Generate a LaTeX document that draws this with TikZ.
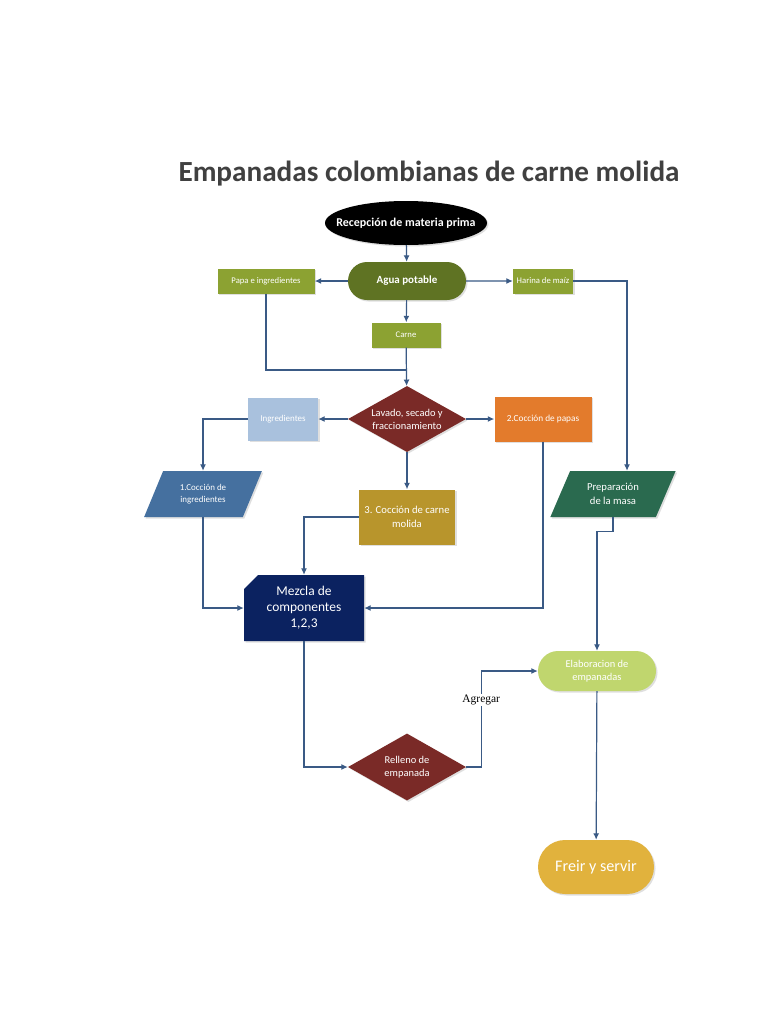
\documentclass[tikz,border=0pt]{standalone}
\usepackage{fontspec}
\setmainfont{Carlito}
\newfontfamily\romana{Liberation Serif}
\usetikzlibrary{arrows.meta,shapes.geometric,shapes.misc,shadows}
\definecolor{titulo}{HTML}{404040}
\definecolor{linea}{HTML}{3A5A85}
\definecolor{oliva}{HTML}{5F7323}
\definecolor{verde}{HTML}{8CA232}
\definecolor{vino}{HTML}{7A2A27}
\definecolor{celeste}{HTML}{A9C1DD}
\definecolor{naranja}{HTML}{E37B2C}
\definecolor{mostaza}{HTML}{B8952C}
\definecolor{acero}{HTML}{45709F}
\definecolor{pino}{HTML}{2A6A4F}
\definecolor{marino}{HTML}{0B2260}
\definecolor{lima}{HTML}{C0D66E}
\definecolor{oro}{HTML}{E1B23D}
\tikzset{
  sombra/.style={drop shadow={shadow xshift=1.5bp,shadow yshift=-1.5bp,opacity=.25}},
  caja/.style={rectangle,text=white,align=center,inner sep=1pt,sombra},
  capsula/.style={rounded rectangle,text=white,align=center,inner sep=1pt,sombra},
  rombo/.style={diamond,aspect=1.8,fill=vino,text=white,align=center,inner sep=0pt,
    minimum width=118bp,minimum height=66bp,font=\fontsize{10.5}{13}\selectfont,sombra},
  datos/.style={trapezium,trapezium left angle=62,trapezium right angle=118,
    trapezium stretches=true,text=white,align=center,inner sep=1pt,
    minimum width=118bp,minimum height=46bp,sombra},
  arrow/.style={-{Latex[length=6.5bp,width=6bp]},draw=linea,line width=1.2bp},
  linea/.style={draw=linea,line width=1.2bp}
}
\begin{document}
\begin{tikzpicture}[x=1bp,y=-1bp]
  \useasboundingbox[fill=white] (0,0) rectangle (768,1024);
  \node[text=titulo,font=\fontsize{29.3}{32}\selectfont\bfseries] (t) at (429,174)
    {Empanadas colombianas de carne molida};
  % recepcion
  \node[ellipse,fill=black,text=white,minimum width=162bp,minimum height=44bp,
    inner xsep=-13bp,inner ysep=0pt,font=\fontsize{12}{14}\selectfont\bfseries,sombra]
    (rec) at (406,223) {Recepción de materia prima};
  \node[capsula,fill=oliva,minimum width=120bp,minimum height=38bp,
    font=\fontsize{11}{13}\selectfont\bfseries] (agua) at (407,281) {Agua potable};
  \node[caja,fill=verde,minimum width=97bp,minimum height=25bp,
    font=\fontsize{8.7}{10}\selectfont] (papa) at (266,281) {Papa e ingredientes};
  \node[caja,fill=verde,minimum width=60bp,minimum height=25bp,
    font=\fontsize{8.7}{10}\selectfont] (harina) at (543,281) {Harina de maíz};
  \node[caja,fill=verde,minimum width=69bp,minimum height=25bp,
    font=\fontsize{8.7}{10}\selectfont] (carne) at (406,335) {Carne};
  % lavado
  \node[rombo] (lav) at (407,419) {Lavado, secado y\\fraccionamiento};
  \node[caja,fill=celeste,minimum width=70bp,minimum height=43bp,
    font=\fontsize{9}{10}\selectfont] (ingr) at (283,419) {Ingredientes};
  \node[caja,fill=naranja,minimum width=97bp,minimum height=45bp,
    font=\fontsize{9.3}{10}\selectfont] (papas) at (543,419) {2.Cocción de papas};
  \node[caja,fill=mostaza,minimum width=96bp,minimum height=55bp,
    font=\fontsize{10.7}{14}\selectfont] (cmol) at (407,517) {3. Cocción de carne\\molida};
  \node[datos,fill=acero,font=\fontsize{9}{12}\selectfont] (ci) at (203,494)
    {1.Cocción de\\ingredientes};
  \node[datos,fill=pino,minimum width=126bp,font=\fontsize{10.7}{14}\selectfont] (masa)
    at (613,494) {Preparación\\de la masa};
  \node[chamfered rectangle,chamfered rectangle corners=north west,
    chamfered rectangle xsep=7bp,chamfered rectangle ysep=7bp,
    fill=marino,text=white,align=center,inner sep=1pt,minimum width=120bp,
    minimum height=66bp,font=\fontsize{13.5}{16}\selectfont,sombra] (mez) at (304,608)
    {Mezcla de\\componentes\\1,2,3};
  \node[capsula,fill=lima,minimum width=120bp,minimum height=40bp,
    font=\fontsize{10.5}{13}\selectfont] (elab) at (597,671) {Elaboracion de\\empanadas};
  \node[rombo,minimum width=118bp,minimum height=67bp] (rell) at (407,767)
    {Relleno de\\empanada};
  \node[capsula,fill=oro,minimum width=118bp,minimum height=54bp,
    font=\fontsize{16.2}{19}\selectfont] (freir) at (596,867) {Freir y servir};
  % conectores
  \coordinate (junta) at (407,370);
  \draw[arrow] (rec) -- (agua);
  \draw[arrow] (agua) -- (papa);
  \draw[arrow] (agua) -- (harina);
  \draw[arrow] (agua) -- (carne);
  \draw[linea] (papa.south) |- (junta);
  \draw[arrow] (carne) -- (lav);
  \draw[arrow] (harina.east) -| ([xshift=14bp]masa.north);
  \draw[arrow] (lav) -- (ingr);
  \draw[arrow] (lav) -- (papas);
  \draw[arrow] (lav) -- (cmol);
  \draw[arrow] (ingr.west) -| (ci.north);
  \draw[arrow] (cmol.west) -| (mez.north);
  \draw[arrow] (ci.south) |- (mez.west);
  \draw[arrow] (papas.south) |- (mez.east);
  \draw[arrow] (masa.south) -- ++(0,14) -| (elab.north);
  \draw[arrow] (mez.south) |- (rell.west);
  \draw[arrow] (rell.east) -- ++(15,0) |- node[pos=0.35,fill=white,inner sep=1pt,
    font=\romana\fontsize{11.5}{12}\selectfont] (agr) {Agregar} (elab.west);
  \draw[arrow] (elab) -- (freir);
\end{tikzpicture}
\end{document}
